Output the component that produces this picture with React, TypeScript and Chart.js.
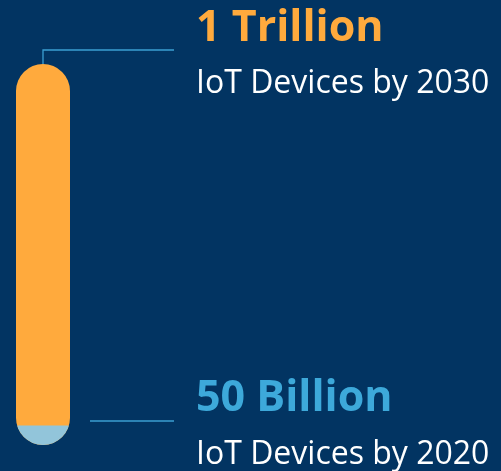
import React, { useEffect, useRef } from "react";
import { Chart, registerables } from "chart.js";

Chart.register(...registerables);

// Data (IoT devices, in billions)
const years = ["2020", "2030"];
const devicesBillions = [50, 1000];
const headlines = ["50 Billion", "1 Trillion"];
const captions = ["IoT Devices by 2020", "IoT Devices by 2030"];
const barColors = ["#92C5DA", "#FFAA3D"];
const headlineColors = ["#3DA9DA", "#FFAA3D"];
const categories = ["IoT devices"];

const BG = "#023462";
const LINE = "#3B9ED2";
const FONT = "'Open Sans', 'Noto Sans', sans-serif";

const capsulePlugin = {
  id: "capsule",
  beforeDatasetsDraw(chart: any) {
    const big: any = chart.getDatasetMeta(1).data[0];
    if (!big) return;
    const ctx = chart.ctx;
    const w = big.width;
    const left = big.x - w / 2;
    const top = big.y;
    const h = big.base - big.y;
    ctx.save();
    ctx.beginPath();
    ctx.roundRect(left, top, w, h, w / 2);
    ctx.clip();
  },
  afterDatasetsDraw(chart: any) {
    chart.ctx.restore();
  },
};

const labelPlugin = {
  id: "labels",
  afterDraw(chart: any) {
    const ctx = chart.ctx;
    const big: any = chart.getDatasetMeta(1).data[0];
    const small: any = chart.getDatasetMeta(0).data[0];
    if (!big || !small) return;
    const textX = 196;
    const lineEnd = 174;
    ctx.save();
    ctx.textBaseline = "alphabetic";
    ctx.textAlign = "left";

    // top (2030)
    const topY = big.y;
    ctx.strokeStyle = LINE;
    ctx.lineWidth = 1.3;
    ctx.beginPath();
    ctx.moveTo(big.x, topY);
    ctx.lineTo(big.x, topY - 14);
    ctx.lineTo(lineEnd, topY - 14);
    ctx.stroke();

    ctx.fillStyle = headlineColors[1];
    ctx.font = `bold 43px ${FONT}`;
    ctx.fillText(headlines[1], textX, topY - 23);
    ctx.fillStyle = "#FFFFFF";
    ctx.font = `32px ${FONT}`;
    ctx.fillText(captions[1], textX, topY + 29);

    // bottom (2020)
    const bottom = small.base;
    const lineY = bottom - 24;
    ctx.beginPath();
    ctx.moveTo(small.x + small.width / 2 + 20, lineY);
    ctx.lineTo(lineEnd, lineY);
    ctx.stroke();

    ctx.fillStyle = headlineColors[0];
    ctx.font = `bold 43px ${FONT}`;
    ctx.fillText(headlines[0], textX, bottom - 34);
    ctx.fillStyle = "#FFFFFF";
    ctx.font = `32px ${FONT}`;
    ctx.fillText(captions[0], textX, bottom + 19);
    ctx.restore();
  },
};

export default function App() {
  const ref = useRef<HTMLCanvasElement>(null);
  useEffect(() => {
    if (!ref.current) return;
    const chart = new Chart(ref.current, {
      type: "bar",
      data: {
        labels: categories,
        datasets: years.map((y, i) => ({
          label: y,
          data: [devicesBillions[i]],
          backgroundColor: barColors[i],
          borderWidth: 0,
          grouped: false,
          barPercentage: 1,
          categoryPercentage: 1,
        })),
      },
      options: {
        responsive: false,
        animation: false,
        layout: { padding: { top: 64, bottom: 26, left: 16, right: 431 } },
        plugins: { legend: { display: false }, tooltip: { enabled: false } },
        scales: {
          x: { display: false },
          y: { display: false, min: 0, max: 1000 },
        },
      },
      plugins: [capsulePlugin, labelPlugin],
    });
    return () => chart.destroy();
  }, []);
  return (
    <div
      style={{
        position: "absolute",
        left: 0,
        top: 0,
        width: 501,
        height: 471,
        background: BG,
        overflow: "hidden",
      }}
    >
      <canvas ref={ref} width={501} height={471} style={{ display: "block", width: 501, height: 471 }} />
    </div>
  );
}
